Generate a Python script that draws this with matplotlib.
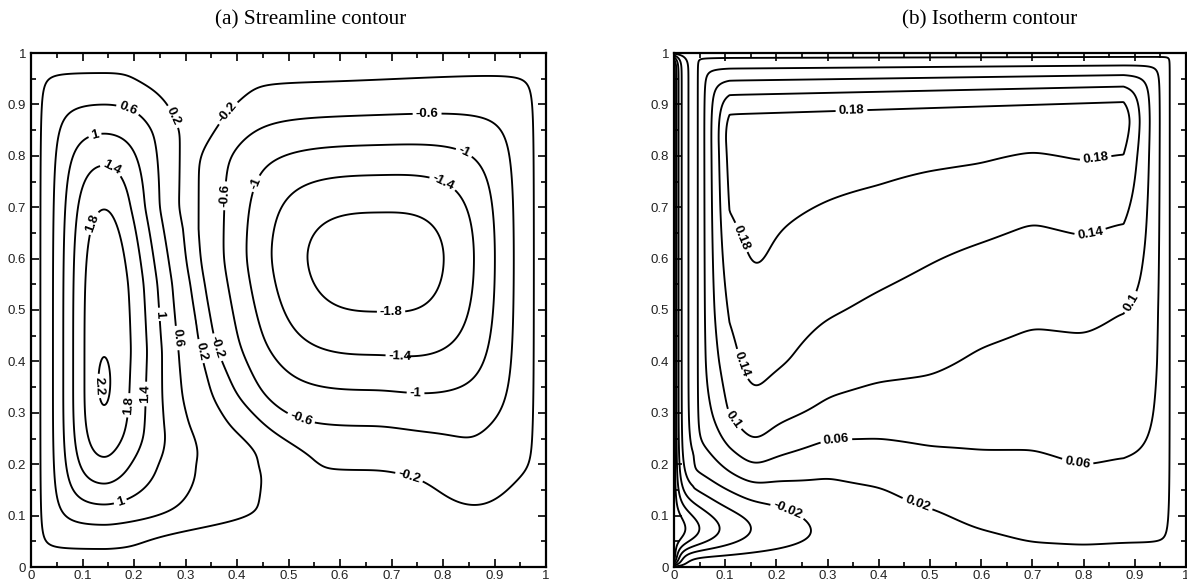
import numpy as np
import matplotlib
matplotlib.use("Agg")
import matplotlib.pyplot as plt
from matplotlib.ticker import MultipleLocator, FormatStrFormatter

plt.rcParams["contour.negative_linestyle"] = "solid"

# ---------------------------------------------------------------
# Contour levels
psi_levels = [-1.8, -1.4, -1.0, -0.6, -0.2, 0.2, 0.6, 1.0, 1.4, 1.8, 2.2]
theta_levels = [-0.18, -0.14, -0.10, -0.06, -0.02, 0.02, 0.06, 0.10, 0.14, 0.18]

# Stream function: two counter-rotating cells
cell_centre_left = (0.142, 0.36)
cell_centre_right = (0.68, 0.60)
cell_peak_left = 2.30
cell_peak_right = -2.00
# reach / stretch of the left cell towards the right, by height
left_reach_y = [0.0, 0.04, 0.06, 0.085, 0.10, 0.20, 0.255, 0.326, 0.42,
                0.55, 0.70, 0.85, 0.90, 0.93, 0.96, 1.0]
left_reach = [0.03, 0.03, 0.045, 0.10, 0.12, 0.122, 0.159, 0.174, 0.192,
              0.18, 0.139, 0.137, 0.118, 0.095, 0.05, 0.05]
left_stretch = [2.5, 2.5, 2.5, 2.5, 2.5, 2.5, 1.08, 0.50, 0.14,
                0.10, 0.26, 0.32, 0.32, 0.32, 0.32, 0.32]
# reach of the right cell towards the left, by height
right_reach_y = [0.0, 0.15, 0.21, 0.26, 0.33, 0.43, 0.60, 0.80, 0.89, 0.93, 1.0]
right_reach = [0.12, 0.12, 0.14, 0.233, 0.305, 0.35, 0.385, 0.385, 0.326, 0.28, 0.25]
# depth of the right cell below its centre, by x
right_depth_x = [0.0, 0.68, 0.76, 0.88, 0.95, 1.0]
right_depth = [0.474, 0.474, 0.49, 0.50, 0.48, 0.47]
# height of the right cell above its centre, by x
right_rise_x = [0.0, 0.40, 0.60, 0.80, 0.92, 1.0]
right_rise = [0.385, 0.385, 0.39, 0.40, 0.405, 0.405]
# secondary eddy under the right cell: (x, y, rx, ry, angle deg, strength)
psi_features = [(0.86, 0.17, 0.07, 0.07, 0.0, -0.25)]

# Temperature: interior profiles sampled at stations across the cavity
station_x = [0.06, 0.10, 0.155, 0.20, 0.30, 0.40, 0.50, 0.60, 0.70, 0.80, 0.88]
station_heights = [0, .05, .1, .15, .2, .25, .3, .4, .5, .6, .7, .8, .86]
theta_profiles = [
    [0, 0, 0, 0, .012, .030, .050, .090, .120, .140, .160, .180, .195],
    [0, 0, 0, .0125, .039, .071, .100, .120, .140, .160, .180, .193, .205],
    [0, 0, 0, .027, .070, .108, .131, .158, .170, .185, .194, .201, .205],
    [0, 0, 0, .019, .053, .087, .112, .146, .160, .175, .186, .197, .205],
    [0, .002, .006, .017, .032, .062, .091, .121, .144, .161, .178, .194, .205],
    [0, .007, .013, .020, .040, .060, .082, .112, .133, .152, .171, .192, .205],
    [0, .009, .018, .033, .049, .065, .081, .107, .124, .142, .161, .188, .205],
    [0, .015, .029, .042, .054, .065, .075, .095, .114, .133, .156, .184, .205],
    [0, .022, .033, .044, .055, .064, .073, .089, .106, .125, .147, .176, .205],
    [0, .024, .036, .048, .061, .068, .076, .091, .108, .130, .153, .183, .205],
    [0, .022, .034, .046, .058, .066, .074, .088, .100, .122, .148, .178, .205],
]
theta_peak = 0.205
theta_left_wall = -0.21

# Contour label anchors (level, (x, y))
psi_label_pos = [
    (0.6, (0.189, 0.893)), (0.2, (0.278, 0.877)), (-0.2, (0.386, 0.880)),
    (-0.6, (0.769, 0.893)), (1.0, (0.118, 0.865)), (-1.0, (0.862, 0.852)),
    (1.4, (0.159, 0.780)), (-1.4, (0.818, 0.786)), (-0.6, (0.379, 0.722)),
    (-1.0, (0.449, 0.741)), (1.8, (0.109, 0.673)), (-1.8, (0.699, 0.524)),
    (1.0, (0.256, 0.492)), (0.6, (0.289, 0.446)), (0.2, (0.330, 0.420)),
    (-0.2, (0.370, 0.430)), (-1.4, (0.717, 0.420)), (2.2, (0.129, 0.352)),
    (1.4, (0.245, 0.336)), (1.8, (0.209, 0.313)), (-1.0, (0.747, 0.346)),
    (-0.6, (0.528, 0.300)), (-0.2, (0.732, 0.168)), (1.0, (0.178, 0.113)),
]
theta_label_pos = [
    (0.18, (0.347, 0.877)), (0.18, (0.824, 0.792)), (0.18, (0.121, 0.637)),
    (0.14, (0.813, 0.650)), (0.10, (0.883, 0.521)), (0.14, (0.125, 0.392)),
    (0.10, (0.114, 0.285)), (0.06, (0.317, 0.246)), (0.06, (0.787, 0.197)),
    (0.02, (0.473, 0.116)), (-0.02, (0.221, 0.108)),
]

# ---------------------------------------------------------------
N = 601
grid = np.linspace(0.0, 1.0, N)
X, Y = np.meshgrid(grid, grid)
fine = np.linspace(0.0, 1.0, 2001)


def gauss_kernel(s, h):
    m = int(4 * s / h)
    k = np.exp(-0.5 * (np.arange(-m, m + 1) * h / s) ** 2)
    return k / k.sum(), m


def smooth_table(q, xp, fp, s):
    vals = np.interp(fine, xp, fp)
    k, m = gauss_kernel(s, fine[1] - fine[0])
    vals = np.convolve(np.pad(vals, m, mode="edge"), k, mode="valid")
    return np.interp(q, fine, vals)


def lobe(u, n, a):
    un = np.abs(u) ** n
    return np.clip(1.0 - un, 0.0, None) * np.exp(-a * un)


def soft_min(a, b, k):
    a = np.clip(a, 1e-6, 1.0)
    b = np.clip(b, 1e-6, 1.0)
    return (a ** -k + b ** -k - 1.0) ** (-1.0 / k)


def unstretch(t, beta):
    # solve u + beta*u**3 = t for u >= 0
    u = t.copy()
    for _ in range(40):
        u = u - (u + beta * u ** 3 - t) / (1.0 + 3.0 * beta * u ** 2)
    return u


def blob(x0, y0, r1, r2, ang, amp):
    t = np.deg2rad(ang)
    p = (X - x0) * np.cos(t) + (Y - y0) * np.sin(t)
    q = -(X - x0) * np.sin(t) + (Y - y0) * np.cos(t)
    return amp * np.exp(-(p / r1) ** 2 - (q / r2) ** 2)


def smooth(Z, sx, sy):
    h = grid[1] - grid[0]
    for axis, s in ((1, sx), (0, sy)):
        k, m = gauss_kernel(s, h)
        pad = [(0, 0), (0, 0)]
        pad[axis] = (m, m)
        Zp = np.pad(Z, pad, mode="edge")
        Z = np.apply_along_axis(lambda r: np.convolve(r, k, mode="valid"), axis, Zp)
    return Z


# ---- stream function ----
cx, cy = cell_centre_left
dx, dy = X - cx, Y - cy
reach = smooth_table(Y, left_reach_y, left_reach, 0.012)
beta = smooth_table(Y, left_reach_y, left_stretch, 0.02)
u = np.where(dx < 0, dx / cx, unstretch(np.clip(dx, 0, None) / reach, beta))
v = np.where(dy < 0, dy / cy, dy / (1.0 - cy))
f = lobe(u, 2, 1.2)
g = np.where(dy < 0, lobe(v, 3, 1.4), lobe(v, 4, 1.1))
spike = 1.0 - 0.08 * (1.0 - np.exp(-(dx / 0.016) ** 2 - (dy / 0.055) ** 2))
psi = cell_peak_left * soft_min(f, g, 1.2) * spike

cx, cy = cell_centre_right
dx, dy = X - cx, Y - cy
reach = smooth_table(Y, right_reach_y, right_reach, 0.02)
depth = smooth_table(X, right_depth_x, right_depth, 0.02)
rise = smooth_table(X, right_rise_x, right_rise, 0.05)
u = np.where(dx < 0, dx / reach, dx / (1.0 - cx))
v = np.where(dy < 0, dy / depth, dy / rise)
f = np.where(dx < 0, lobe(u, 3, 1.0), lobe(u, 3, 0.9))
g = np.where(dy < 0, lobe(v, 2, 1.2), lobe(v, 2, 1.0))
psi = psi + cell_peak_right * soft_min(f, g, 1.5)

for feat in psi_features:
    psi = psi + blob(*feat)
wall = (np.tanh(X / 0.008) * np.tanh((1 - X) / 0.008)
        * np.tanh(Y / 0.008) * np.tanh((1 - Y) / 0.008))
psi = psi * wall

# ---- temperature ----
prof = np.array([np.interp(grid, station_heights, p) for p in theta_profiles])
low = np.array([np.interp(grid, station_x, prof[:, j]) for j in range(N)])
low = smooth(low, 0.015, 0.012)
H = (np.clip((X - 0.038) / 0.0705, 0, 1)
     * np.clip((1 - X - 0.022) / 0.10, 0, 1))
depth_top = np.clip((1 - Y) / (0.178 - 0.045 * X), 0, 1)
top = 1 - (1 - depth_top) ** 1.8
k_corner = 1.6 + 0.9 * np.clip(Y / 0.4, 0, 1)
core = theta_peak * soft_min(H, np.clip(low / theta_peak, 0, 1) * top, k_corner)

layer = np.exp(-X / 0.012) * np.tanh(Y / 0.01)
bt = Y / 0.075
tongue = np.exp(-X / 0.12) * (bt * np.exp(1 - bt)) ** 3
cold = theta_left_wall * (1 - (1 - layer) * (1 - tongue)) * np.tanh((1 - Y) / 0.015)
theta = core + cold

# ---------------------------------------------------------------
W, Hpx = 1187, 586
fig = plt.figure(figsize=(W / 100, Hpx / 100), dpi=100)
axA = fig.add_axes([31 / W, 19 / Hpx, 515 / W, 514 / Hpx])
axB = fig.add_axes([674 / W, 19 / Hpx, 512 / W, 514 / Hpx])

for ax in (axA, axB):
    ax.set_xlim(0, 1)
    ax.set_ylim(0, 1)
    for axis in (ax.xaxis, ax.yaxis):
        axis.set_major_locator(MultipleLocator(0.1))
        axis.set_minor_locator(MultipleLocator(0.05))
        axis.set_major_formatter(FormatStrFormatter("%g"))
    ax.tick_params(which="both", direction="in", top=True, right=True,
                   width=1.2, colors="black")
    ax.tick_params(which="major", length=6)
    ax.tick_params(which="minor", length=3.5)
    ax.tick_params(axis="y", pad=3.5)
    ax.tick_params(axis="x", pad=2.5)
    for lab in ax.get_xticklabels() + ax.get_yticklabels():
        lab.set_fontfamily("Liberation Sans")
        lab.set_fontsize(9.5)
        lab.set_color("#222222")
    for sp in ax.spines.values():
        sp.set_linewidth(1.6)


def draw(ax, Z, levels, labels):
    for lev in levels:
        cs = ax.contour(X, Y, Z, levels=[lev], colors="black", linewidths=1.35)
        pts = [p for (l, p) in labels if np.isclose(l, lev)]
        if pts:
            with plt.rc_context({"font.family": "Liberation Sans",
                                 "font.weight": "bold"}):
                ax.clabel(cs, fmt="%g", manual=pts, inline=True,
                          inline_spacing=3, fontsize=9.5)


draw(axA, psi, psi_levels, psi_label_pos)
draw(axB, theta, theta_levels, theta_label_pos)

title_font = dict(family="Liberation Serif", size=15.3)
fig.text(311 / W, 1 - 20 / Hpx, "(a) Streamline contour", ha="center",
         va="center", **title_font)
fig.text(990 / W, 1 - 20 / Hpx, "(b) Isotherm contour", ha="center",
         va="center", **title_font)

fig.savefig("out.png", dpi=100)
